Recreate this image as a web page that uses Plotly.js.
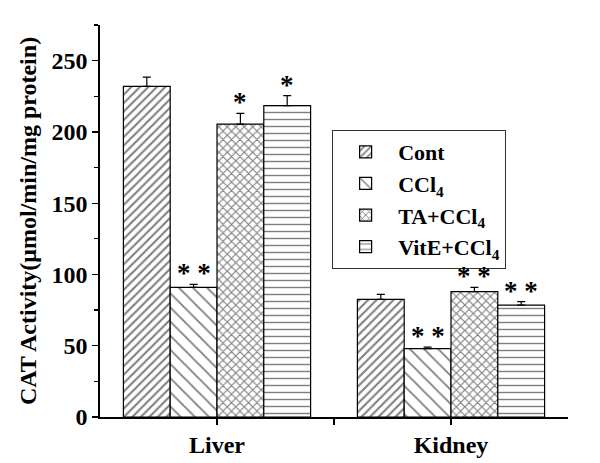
<!DOCTYPE html>
<html>
<head>
<meta charset="utf-8">
<script src="https://cdn.plot.ly/plotly-3.0.1.min.js"></script>
<style>html,body{margin:0;padding:0;background:#fff;}#chart{width:600px;height:463px;}</style>
</head>
<body>
<div id="chart"></div>
<script>
// Data
const categories = ['Liver', 'Kidney'];
const seriesNames = ['Cont', 'CCl<sub>4</sub>', 'TA+CCl<sub>4</sub>', 'VitE+CCl<sub>4</sub>'];
const contValues = [232, 82.5];
const contErrors = [6.5, 3.5];
const ccl4Values = [91, 48];
const ccl4Errors = [2, 1];
const taValues = [205.5, 88];
const taErrors = [7.5, 3];
const viteValues = [218.5, 78.5];
const viteErrors = [7, 2.5];
const contMarks = ['', ''];
const ccl4Marks = ['* *', '* *'];
const taMarks = ['*', '* *'];
const viteMarks = ['*', '* *'];

const FONT = 'Liberation Serif, Times New Roman, serif';
const xIdx = categories.map((c, i) => i);

const seriesValues = [contValues, ccl4Values, taValues, viteValues];
const seriesErrors = [contErrors, ccl4Errors, taErrors, viteErrors];
const seriesMarks = [contMarks, ccl4Marks, taMarks, viteMarks];
const patterns = [
  {shape: '/', size: 6, solidity: 0.35},
  {shape: '\\', size: 10, solidity: 0.18},
  {shape: 'x', size: 6, solidity: 0.35},
  {shape: '-', size: 7, solidity: 0.2}
];

const traces = seriesNames.map((name, s) => ({
  type: 'bar',
  name: name,
  x: xIdx,
  y: seriesValues[s],
  marker: {
    color: '#ffffff',
    line: {color: '#000', width: 1.2},
    pattern: Object.assign({fgcolor: '#000', bgcolor: '#fff', fillmode: 'overlay'}, patterns[s])
  },
  error_y: {
    type: 'data', array: seriesErrors[s], arrayminus: seriesErrors[s].map(() => 0),
    symmetric: false, color: '#000', thickness: 1.2, width: 4
  }
}));

const offsets = [-0.3, -0.1, 0.1, 0.3];
const annotations = [];
seriesMarks.forEach((marks, s) => {
  marks.forEach((m, i) => {
    if (!m) return;
    annotations.push({
      x: xIdx[i] + offsets[s], y: seriesValues[s][i] + seriesErrors[s][i],
      xref: 'x', yref: 'y', text: m, showarrow: false,
      yanchor: 'bottom', yshift: -6,
      font: {family: FONT, size: 27, color: '#000', weight: 'bold'}
    });
  });
});

const layout = {
  width: 600, height: 463,
  margin: {l: 100, r: 32, t: 25, b: 46},
  paper_bgcolor: '#fff', plot_bgcolor: '#fff',
  barmode: 'group', bargap: 0.2, bargroupgap: 0,
  font: {family: FONT, color: '#000', weight: 'bold'},
  xaxis: {
    range: [-0.5, 1.5], tickmode: 'array',
    tickvals: [0, 0.5, 1], ticktext: [categories[0], '', categories[1]],
    ticks: 'outside', ticklen: 6, tickwidth: 1.3, tickcolor: '#000',
    showline: true, linecolor: '#000', linewidth: 1.6, showgrid: false, zeroline: false,
    tickfont: {family: FONT, size: 24, color: '#000', weight: 'bold'}
  },
  yaxis: {
    range: [0, 275], tickmode: 'linear', tick0: 0, dtick: 50,
    ticks: 'outside', ticklen: 6, tickwidth: 1.3, tickcolor: '#000',
    minor: {dtick: 25, ticks: 'outside', ticklen: 4, tickwidth: 1.3, tickcolor: '#000', showgrid: false},
    showline: true, linecolor: '#000', linewidth: 1.6, showgrid: false, zeroline: false,
    tickfont: {family: FONT, size: 24, color: '#000', weight: 'bold'},
    title: {text: 'CAT Activity(μmol/min/mg protein)', standoff: 8,
            font: {family: FONT, size: 24, color: '#000', weight: 'bold'}}
  },
  showlegend: true,
  legend: {
    x: 0.496, y: 0.732, xanchor: 'left', yanchor: 'top',
    bgcolor: '#fff', bordercolor: '#333', borderwidth: 1,
    itemwidth: 55, tracegroupgap: 4,
    font: {family: FONT, size: 22, color: '#000', weight: 'bold'}
  },
  annotations: annotations
};

Plotly.newPlot('chart', traces, layout, {displayModeBar: false, staticPlot: true});
</script>
</body>
</html>
